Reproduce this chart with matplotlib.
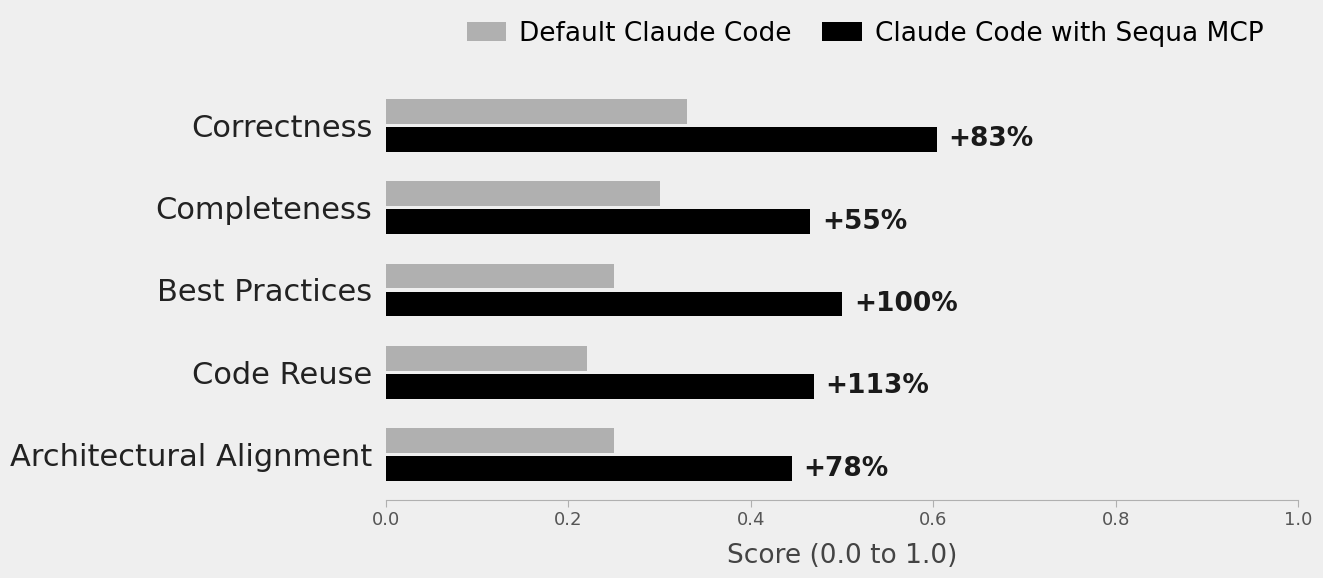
import matplotlib
matplotlib.use("Agg")
import matplotlib.pyplot as plt
import numpy as np

# scores per category, top to bottom
categories = ["Correctness", "Completeness", "Best Practices", "Code Reuse", "Architectural Alignment"]
default_scores = [0.33, 0.30, 0.25, 0.22, 0.25]
sequa_scores = [0.604, 0.465, 0.50, 0.469, 0.445]
gain_labels = ["+83%", "+55%", "+100%", "+113%", "+78%"]
series_names = ["Default Claude Code", "Claude Code with Sequa MCP"]

bg = "#efefef"
fig = plt.figure(figsize=(13.23, 5.78), dpi=100, facecolor=bg)
ax = fig.add_axes([0.2918, 0.135, 0.6893, 0.727])
ax.set_facecolor(bg)

y = np.arange(len(categories))
h = 0.3
ax.barh(y - 0.17, default_scores, height=h, color="#b0b0b0", label=series_names[0])
ax.barh(y + 0.17, sequa_scores, height=h, color="#000000", label=series_names[1])

for yi, val, txt in zip(y, sequa_scores, gain_labels):
    ax.text(val + 0.013, yi + 0.17, txt, va="center", ha="left",
            fontsize=19, fontweight="bold", color="#1a1a1a")

ax.set_yticks(y)
ax.set_yticklabels(categories, fontsize=22, color="#222222")
ax.invert_yaxis()
ax.tick_params(axis="y", length=0, pad=10)

ax.set_xlim(0, 1.0)
ax.set_xticks([0.0, 0.2, 0.4, 0.6, 0.8, 1.0])
ax.set_xticklabels(["0.0", "0.2", "0.4", "0.6", "0.8", "1.0"])
ax.tick_params(axis="x", labelsize=13, colors="#555555", length=5, color="#b0b0b0", pad=3)
ax.set_xlabel("Score (0.0 to 1.0)", fontsize=19, color="#444444", labelpad=10)

for s in ["top", "right", "left"]:
    ax.spines[s].set_visible(False)
ax.spines["bottom"].set_color("#b0b0b0")

ax.legend(loc="lower right", bbox_to_anchor=(0.974, 1.053), ncol=2, frameon=False,
          fontsize=19, handlelength=1.5, handleheight=0.75, handletextpad=0.5,
          columnspacing=1.15, borderaxespad=0)

fig.savefig("out.png", dpi=100, facecolor=bg)
